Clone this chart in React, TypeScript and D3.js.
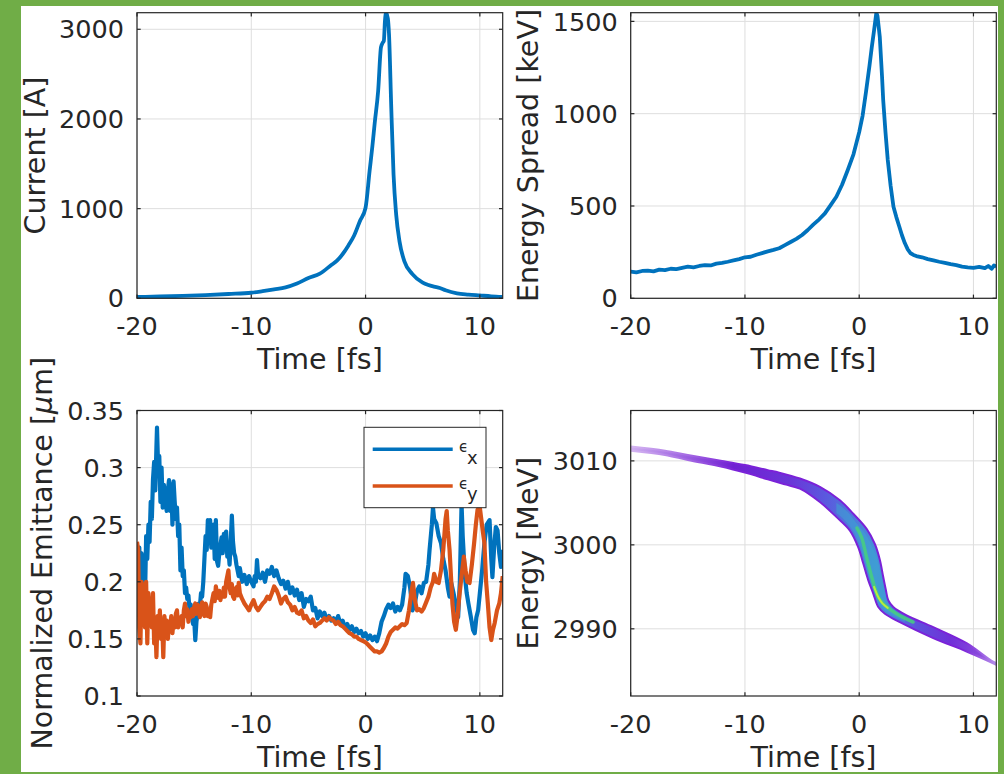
import React from 'react';
import * as d3 from 'd3';

const W = 1004;
const H = 774;
const FONT = '"DejaVu Sans", Verdana, sans-serif';
const INK = '#262626';
const GRID = '#dedede';
const BLUE = '#0072BD';
const ORANGE = '#D95319';
const FRAME_GREEN = '#70AD47';

// ---------- tick labels ----------
const timeTicks = [-20, -10, 0, 10];
const currentTicks = [0, 1000, 2000, 3000];
const spreadTicks = [0, 500, 1000, 1500];
const emitTicks = [0.1, 0.15, 0.2, 0.25, 0.3, 0.35];
const energyTicks = [2990, 3000, 3010];

// ---------- current [A] ----------
const currentT = [-20, -18, -16, -14, -12, -10, -9, -8, -7, -6, -5, -4, -3, -2.5, -2, -1.5, -1, -0.5, 0, 0.35, 0.6, 0.8, 1.1, 1.35, 1.5, 1.6, 1.7, 1.8, 1.95, 2.05, 2.25, 2.45, 2.68, 2.97, 3.4, 4.1, 5, 5.5, 6, 6.5, 7, 8, 9, 10, 11, 12];
const currentA = [15, 20, 27, 36, 48, 62, 80, 100, 122, 165, 226, 275, 371, 420, 494, 590, 700, 860, 1010, 1416, 1700, 1954, 2310, 2800, 2850, 2870, 3100, 3185, 3120, 2950, 2121, 1378, 932, 635, 412, 270, 175, 148, 130, 115, 90, 56, 42, 32, 22, 16];

// ---------- energy spread [keV] ----------
const spreadT = [-20, -19.5, -19, -18.5, -18, -17.5, -17, -16.5, -16, -15.5, -15, -14.5, -14, -13.5, -13, -12.5, -12, -11.5, -11, -10.5, -10, -9.5, -9, -8.5, -8, -7.5, -7, -6.5, -6, -5.5, -5, -4.5, -4, -3.5, -3, -2.5, -2, -1.5, -1, -0.5, 0, 0.3, 0.6, 0.9, 1.1, 1.3, 1.5, 1.6, 1.8, 2.0, 2.1, 2.3, 2.5, 2.75, 3.0, 3.25, 3.5, 3.75, 4.0, 4.25, 4.5, 4.75, 5, 5.5, 6, 6.5, 7, 7.5, 8, 8.5, 9, 9.5, 10, 10.5, 11, 11.3, 11.6, 11.8, 12];
const spreadKeV = [145, 140, 148, 150, 146, 155, 153, 160, 158, 165, 171, 168, 175, 180, 178, 188, 192, 198, 205, 212, 222, 225, 236, 245, 254, 262, 271, 288, 305, 322, 343, 370, 400, 428, 460, 505, 550, 615, 695, 780, 900, 990, 1120, 1260, 1360, 1450, 1547, 1530, 1417, 1200, 1074, 900, 749, 610, 496, 440, 390, 340, 298, 265, 244, 235, 229, 222, 212, 205, 198, 192, 185, 180, 172, 168, 165, 170, 163, 175, 160, 178, 172];

// ---------- normalized emittance [um] ----------
const emitXT = [-20.0, -19.9, -19.8, -19.7, -19.6, -19.5, -19.4, -19.3, -19.2, -19.1, -19.0, -18.9, -18.8, -18.7, -18.6, -18.5, -18.4, -18.3, -18.25, -18.15, -18.05, -17.95, -17.85, -17.75, -17.65, -17.5, -17.4, -17.3, -17.2, -17.1, -17.0, -16.9, -16.8, -16.7, -16.6, -16.5, -16.4, -16.3, -16.2, -16.1, -16.0, -15.9, -15.8, -15.7, -15.6, -15.5, -15.4, -15.3, -15.2, -15.1, -15.0, -14.9, -14.8, -14.7, -14.6, -14.5, -14.4, -14.3, -14.2, -14.1, -14.0, -13.9, -13.8, -13.7, -13.6, -13.5, -13.4, -13.3, -13.2, -13.1, -13.0, -12.9, -12.8, -12.7, -12.6, -12.5, -12.4, -12.3, -12.2, -12.1, -12.0, -11.9, -11.8, -11.7, -11.6, -11.5, -11.4, -11.3, -11.2, -11.1, -11.0, -10.8, -10.6, -10.4, -10.2, -10.0, -9.8, -9.7, -9.6, -9.5, -9.4, -9.2, -9.0, -8.8, -8.6, -8.4, -8.2, -8.0, -7.8, -7.6, -7.4, -7.2, -7.0, -6.8, -6.6, -6.4, -6.2, -6.0, -5.8, -5.6, -5.4, -5.2, -5.0, -4.8, -4.6, -4.4, -4.2, -4.0, -3.8, -3.6, -3.4, -3.2, -3.0, -2.8, -2.6, -2.4, -2.2, -2.0, -1.8, -1.6, -1.4, -1.2, -1.0, -0.8, -0.6, -0.4, -0.2, 0.0, 0.2, 0.4, 0.6, 0.8, 1.0, 1.2, 1.4, 1.6, 1.8, 2.0, 2.2, 2.4, 2.6, 2.8, 3.0, 3.2, 3.4, 3.5, 3.7, 3.9, 4.1, 4.3, 4.5, 4.7, 4.9, 5.1, 5.3, 5.5, 5.6, 5.8, 5.9, 6.0, 6.2, 6.4, 6.6, 6.8, 7.0, 7.2, 7.35, 7.5, 7.7, 7.9, 8.1, 8.25, 8.4, 8.5, 8.7, 8.85, 9.0, 9.2, 9.4, 9.55, 9.7, 9.85, 10.0, 10.2, 10.4, 10.6, 10.85, 11.0, 11.1, 11.25, 11.4, 11.55, 11.7, 11.85, 12.0];
const emitX = [0.175, 0.215, 0.23, 0.19, 0.225, 0.2, 0.21, 0.185, 0.24, 0.22, 0.25, 0.235, 0.27, 0.255, 0.29, 0.305, 0.28, 0.318, 0.335, 0.3, 0.31, 0.27, 0.3, 0.265, 0.285, 0.27, 0.262, 0.28, 0.289, 0.262, 0.285, 0.25, 0.288, 0.27, 0.255, 0.265, 0.24, 0.25, 0.21, 0.23, 0.205, 0.21, 0.19, 0.195, 0.185, 0.188, 0.175, 0.18, 0.17, 0.163, 0.168, 0.149, 0.165, 0.172, 0.181, 0.178, 0.19, 0.187, 0.2, 0.22, 0.24, 0.228, 0.254, 0.25, 0.254, 0.23, 0.245, 0.25, 0.22, 0.254, 0.218, 0.214, 0.225, 0.232, 0.239, 0.225, 0.242, 0.236, 0.244, 0.222, 0.228, 0.215, 0.235, 0.258, 0.235, 0.225, 0.222, 0.215, 0.21, 0.205, 0.212, 0.2, 0.206, 0.198, 0.205, 0.2, 0.196, 0.205, 0.2, 0.219, 0.205, 0.203, 0.208, 0.2, 0.21, 0.207, 0.213, 0.205, 0.21, 0.203, 0.198, 0.201, 0.194, 0.2, 0.19, 0.195, 0.188, 0.193, 0.184, 0.19, 0.178, 0.185, 0.183, 0.187, 0.175, 0.177, 0.168, 0.174, 0.17, 0.173, 0.167, 0.17, 0.166, 0.168, 0.165, 0.17, 0.163, 0.166, 0.16, 0.163, 0.158, 0.161, 0.156, 0.159, 0.155, 0.157, 0.152, 0.155, 0.15, 0.153, 0.149, 0.152, 0.148, 0.155, 0.165, 0.17, 0.176, 0.18, 0.177, 0.181, 0.174, 0.178, 0.175, 0.18, 0.195, 0.207, 0.205, 0.195, 0.175, 0.18, 0.192, 0.196, 0.19, 0.199, 0.2, 0.215, 0.228, 0.25, 0.265, 0.255, 0.251, 0.24, 0.234, 0.22, 0.21, 0.195, 0.187, 0.199, 0.19, 0.18, 0.169, 0.2, 0.268, 0.24, 0.204, 0.19, 0.181, 0.17, 0.158, 0.155, 0.169, 0.175, 0.19, 0.21, 0.234, 0.25, 0.254, 0.22, 0.204, 0.23, 0.248, 0.245, 0.225, 0.213, 0.228];

const emitYT = [-20.0, -19.9, -19.8, -19.7, -19.6, -19.5, -19.4, -19.3, -19.2, -19.1, -19.0, -18.9, -18.8, -18.7, -18.6, -18.5, -18.4, -18.3, -18.2, -18.1, -18.0, -17.9, -17.8, -17.7, -17.6, -17.5, -17.4, -17.3, -17.2, -17.1, -17.0, -16.9, -16.8, -16.7, -16.6, -16.5, -16.4, -16.3, -16.2, -16.1, -16.0, -15.9, -15.8, -15.7, -15.6, -15.5, -15.4, -15.3, -15.2, -15.1, -15.0, -14.9, -14.8, -14.7, -14.6, -14.5, -14.4, -14.3, -14.2, -14.1, -14.0, -13.9, -13.8, -13.7, -13.6, -13.5, -13.4, -13.3, -13.2, -13.1, -13.0, -12.9, -12.8, -12.7, -12.6, -12.5, -12.4, -12.3, -12.2, -12.1, -12.0, -11.9, -11.8, -11.7, -11.6, -11.5, -11.4, -11.3, -11.2, -11.1, -11.0, -10.8, -10.6, -10.4, -10.2, -10.0, -9.8, -9.6, -9.4, -9.2, -9.0, -8.8, -8.6, -8.4, -8.2, -8.0, -7.8, -7.6, -7.4, -7.2, -7.0, -6.8, -6.6, -6.4, -6.2, -6.0, -5.8, -5.6, -5.4, -5.2, -5.0, -4.8, -4.6, -4.4, -4.2, -4.0, -3.8, -3.6, -3.4, -3.2, -3.0, -2.8, -2.6, -2.4, -2.2, -2.0, -1.8, -1.6, -1.4, -1.2, -1.0, -0.8, -0.6, -0.4, -0.2, 0.0, 0.2, 0.4, 0.6, 0.8, 1.0, 1.2, 1.4, 1.6, 1.8, 2.0, 2.2, 2.4, 2.6, 2.8, 3.0, 3.2, 3.4, 3.6, 3.8, 4.0, 4.15, 4.3, 4.5, 4.7, 4.9, 5.1, 5.3, 5.5, 5.7, 5.9, 6.0, 6.2, 6.4, 6.6, 6.8, 7.0, 7.1, 7.2, 7.35, 7.5, 7.6, 7.75, 7.9, 8.05, 8.2, 8.4, 8.6, 8.75, 8.9, 9.1, 9.3, 9.5, 9.65, 9.8, 10.0, 10.1, 10.25, 10.4, 10.55, 10.7, 10.85, 11.0, 11.15, 11.3, 11.5, 11.7, 11.85, 12.0];
const emitY = [0.235, 0.228, 0.16, 0.146, 0.2, 0.195, 0.187, 0.16, 0.2, 0.146, 0.19, 0.175, 0.181, 0.16, 0.19, 0.146, 0.165, 0.134, 0.17, 0.155, 0.175, 0.15, 0.165, 0.134, 0.17, 0.158, 0.166, 0.15, 0.163, 0.161, 0.17, 0.155, 0.166, 0.16, 0.172, 0.175, 0.16, 0.168, 0.164, 0.17, 0.16, 0.175, 0.181, 0.17, 0.176, 0.165, 0.172, 0.169, 0.176, 0.17, 0.178, 0.181, 0.172, 0.18, 0.175, 0.169, 0.175, 0.182, 0.173, 0.17, 0.181, 0.178, 0.17, 0.175, 0.169, 0.18, 0.185, 0.19, 0.183, 0.196, 0.19, 0.186, 0.192, 0.184, 0.19, 0.187, 0.195, 0.187, 0.2, 0.205, 0.21, 0.195, 0.19, 0.198, 0.187, 0.185, 0.192, 0.195, 0.188, 0.199, 0.19, 0.185, 0.181, 0.178, 0.175, 0.18, 0.184, 0.178, 0.175, 0.178, 0.181, 0.183, 0.187, 0.185, 0.19, 0.196, 0.193, 0.188, 0.181, 0.185, 0.187, 0.182, 0.18, 0.175, 0.178, 0.173, 0.172, 0.175, 0.168, 0.17, 0.166, 0.164, 0.167, 0.161, 0.163, 0.164, 0.166, 0.168, 0.166, 0.169, 0.167, 0.166, 0.163, 0.165, 0.162, 0.161, 0.159, 0.157, 0.155, 0.154, 0.152, 0.152, 0.15, 0.149, 0.148, 0.147, 0.145, 0.143, 0.141, 0.139, 0.139, 0.138, 0.139, 0.142, 0.146, 0.152, 0.156, 0.158, 0.16, 0.159, 0.161, 0.163, 0.162, 0.164, 0.175, 0.19, 0.199, 0.185, 0.175, 0.176, 0.174, 0.177, 0.182, 0.187, 0.195, 0.2, 0.207, 0.2, 0.199, 0.21, 0.228, 0.255, 0.262, 0.245, 0.228, 0.2, 0.181, 0.165, 0.158, 0.17, 0.187, 0.205, 0.222, 0.21, 0.2, 0.199, 0.215, 0.234, 0.25, 0.263, 0.265, 0.257, 0.245, 0.234, 0.2, 0.181, 0.16, 0.149, 0.158, 0.164, 0.175, 0.181, 0.19, 0.205];

// ---------- longitudinal phase space (energy band outline) [MeV] ----------
const bandUpperT = [-20, -17, -15, -12, -10, -8, -7, -5.19, -3.44, -1.69, -0.52, 0.65, 1.37, 1.81, 2.1, 2.34, 2.54, 2.98, 4.15, 6.48, 9.4, 11.72, 12.3];
const bandUpperE = [3011.7, 3011.2, 3010.7, 3010.0, 3009.5, 3008.9, 3008.6, 3007.9, 3006.9, 3005.3, 3003.7, 3001.9, 3000.1, 2998.2, 2996.2, 2994.6, 2993.4, 2992.6, 2991.6, 2990.2, 2988.3, 2986.1, 2985.8];
const bandLowerT = [-20, -17, -15, -12, -10, -8, -6.5, -5.19, -3.44, -1.98, -0.81, -0.08, 0.35, 0.79, 1.23, 1.67, 2.25, 3.56, 6.48, 9.4, 11.72, 12.3];
const bandLowerE = [3011.2, 3010.7, 3010.1, 3009.3, 3008.6, 3007.8, 3007.2, 3006.7, 3005.1, 3003.3, 3001.7, 2999.7, 2997.8, 2995.8, 2994.2, 2992.6, 2991.8, 2990.8, 2988.9, 2987.3, 2985.9, 2985.5];
const coreT = [-2, -1, 0, 0.5, 1, 1.5, 2, 2.5, 3, 4];
const coreUpper = [3005.0, 3003.9, 3002.2, 3001.4, 3000.2, 2998.6, 2996.0, 2993.2, 2992.3, 2991.4];
const coreLower = [3003.8, 3002.5, 3000.2, 2998.0, 2995.8, 2993.8, 2992.6, 2991.9, 2991.5, 2990.8];
const ridgeT = [-0.2, 0.21, 0.65, 1.09, 1.67, 2.25, 3.27, 4.72];
const ridgeE = [3002.0, 3000.9, 2998.5, 2996.2, 2993.8, 2992.8, 2991.8, 2990.8];
const peakT = [1.3, 1.7, 2.05, 2.5];
const peakE = [2995.0, 2993.7, 2993.0, 2992.5];

type Box = { l: number; r: number; t: number; b: number };
const TL: Box = { l: 137, r: 502.7, t: 12.7, b: 298.3 };
const TR: Box = { l: 630.7, r: 996.3, t: 12.7, b: 298.3 };
const BL: Box = { l: 137, r: 502.7, t: 410.5, b: 696 };
const BR: Box = { l: 630.7, r: 996.3, t: 410.5, b: 696 };

const TICK_FS = 25.5;
const LABEL_FS = 28.5;
const TICK_LEN = 3.7;

type Scale = d3.ScaleLinear<number, number>;

function Axes(props: {
  box: Box;
  id: string;
  xDomain: [number, number];
  yDomain: [number, number];
  xTicks: number[];
  yTicks: number[];
  yFmt: (v: number) => string;
  xLabel: string;
  yLabel: React.ReactNode;
  yLabelGap: number;
  render: (x: Scale, y: Scale) => React.ReactNode;
  overlay?: React.ReactNode;
}) {
  const { box, id } = props;
  const x = d3.scaleLinear().domain(props.xDomain).range([box.l, box.r]);
  const y = d3.scaleLinear().domain(props.yDomain).range([box.b, box.t]);
  return (
    <g>
      <defs>
        <clipPath id={id}>
          <rect x={box.l} y={box.t} width={box.r - box.l} height={box.b - box.t} />
        </clipPath>
      </defs>
      <rect x={box.l} y={box.t} width={box.r - box.l} height={box.b - box.t} fill="#ffffff" />
      {props.xTicks.map((v) => (
        <line key={'gx' + v} x1={x(v)} x2={x(v)} y1={box.t} y2={box.b} stroke={GRID} strokeWidth={1} />
      ))}
      {props.yTicks.map((v) => (
        <line key={'gy' + v} x1={box.l} x2={box.r} y1={y(v)} y2={y(v)} stroke={GRID} strokeWidth={1} />
      ))}
      <g clipPath={`url(#${id})`}>{props.render(x, y)}</g>
      <rect x={box.l} y={box.t} width={box.r - box.l} height={box.b - box.t} fill="none" stroke={INK} strokeWidth={1.2} />
      {props.xTicks.map((v) => (
        <g key={'tx' + v}>
          <line x1={x(v)} x2={x(v)} y1={box.b} y2={box.b - TICK_LEN} stroke={INK} strokeWidth={1.2} />
          <line x1={x(v)} x2={x(v)} y1={box.t} y2={box.t + TICK_LEN} stroke={INK} strokeWidth={1.2} />
          <text x={x(v)} y={box.b + 36.7} textAnchor="middle" fontSize={TICK_FS} fill={INK} fontFamily={FONT}>
            {String(v)}
          </text>
        </g>
      ))}
      {props.yTicks.map((v) => (
        <g key={'ty' + v}>
          <line x1={box.l} x2={box.l + TICK_LEN} y1={y(v)} y2={y(v)} stroke={INK} strokeWidth={1.2} />
          <line x1={box.r} x2={box.r - TICK_LEN} y1={y(v)} y2={y(v)} stroke={INK} strokeWidth={1.2} />
          <text x={box.l - 13} y={y(v)} dy="0.36em" textAnchor="end" fontSize={TICK_FS} fill={INK} fontFamily={FONT}>
            {props.yFmt(v)}
          </text>
        </g>
      ))}
      <text x={(box.l + box.r) / 2} y={box.b + 70.7} textAnchor="middle" fontSize={LABEL_FS} fill={INK} fontFamily={FONT}>
        {props.xLabel}
      </text>
      <text
        transform={`translate(${box.l - props.yLabelGap},${(box.t + box.b) / 2}) rotate(-90)`}
        textAnchor="middle"
        fontSize={LABEL_FS}
        fill={INK}
        fontFamily={FONT}
      >
        {props.yLabel}
      </text>
      {props.overlay}
    </g>
  );
}

function linePath(x: Scale, y: Scale, ts: number[], vs: number[], curve: d3.CurveFactory = d3.curveLinear) {
  const pts: [number, number][] = ts.map((t, i) => [t, vs[i]]);
  return d3
    .line<[number, number]>()
    .x((d) => x(d[0]))
    .y((d) => y(d[1]))
    .curve(curve)(pts) as string;
}

function outlinePath(x: Scale, y: Scale, ut: number[], ue: number[], lt: number[], le: number[]) {
  const gen = d3
    .line<[number, number]>()
    .x((d) => x(d[0]))
    .y((d) => y(d[1]))
    .curve(d3.curveCatmullRom.alpha(0.5));
  const up: [number, number][] = ut.map((t, i) => [t, ue[i]]);
  const lo: [number, number][] = lt.map((t, i) => [t, le[i]]).reverse() as [number, number][];
  const a = gen(up) as string;
  const b = (gen(lo) as string).replace(/^M/, 'L');
  return a + b + 'Z';
}

function bandPath(x: Scale, y: Scale, ts: number[], up: number[], lo: number[]) {
  const pts = ts.map((t, i) => ({ t, u: up[i], l: lo[i] }));
  return d3
    .area<{ t: number; u: number; l: number }>()
    .x((d) => x(d.t))
    .y0((d) => y(d.l))
    .y1((d) => y(d.u))
    .curve(d3.curveMonotoneX)(pts) as string;
}

export default function App() {
  const fmtInt = (v: number) => String(v);
  const fmtEmit = (v: number) => String(+v.toFixed(2));

  const xs = d3.scaleLinear().domain([-20, 12]).range([BR.l, BR.r]);
  const stop = (t: number) => ((xs(t) - BR.l) / (BR.r - BR.l)) * 100 + '%';

  return (
    <div style={{ position: 'absolute', left: 0, top: 0, width: W, height: H }}>
      <svg width={W} height={H} viewBox={`0 0 ${W} ${H}`} style={{ display: 'block' }}>
        <defs>
          <linearGradient id="bandFill" gradientUnits="userSpaceOnUse" x1={BR.l} x2={BR.r} y1={0} y2={0}>
            <stop offset={stop(-20)} stopColor="#cfaef0" />
            <stop offset={stop(-15)} stopColor="#9a5ee0" />
            <stop offset={stop(-11)} stopColor="#7020d2" />
            <stop offset={stop(-6)} stopColor="#6a36d8" />
            <stop offset={stop(-3)} stopColor="#5b58de" />
            <stop offset={stop(-0.5)} stopColor="#4f78dc" />
            <stop offset={stop(1.5)} stopColor="#4590d8" />
            <stop offset={stop(3)} stopColor="#4b7cdc" />
            <stop offset={stop(5)} stopColor="#5e50dc" />
            <stop offset={stop(8)} stopColor="#7030d8" />
            <stop offset={stop(10.5)} stopColor="#8848dc" />
            <stop offset={stop(12)} stopColor="#b790ea" />
          </linearGradient>
          <linearGradient id="bandEdge" gradientUnits="userSpaceOnUse" x1={BR.l} x2={BR.r} y1={0} y2={0}>
            <stop offset={stop(-20)} stopColor="#d6b8f2" />
            <stop offset={stop(-15)} stopColor="#a56ae3" />
            <stop offset={stop(-11)} stopColor="#7a22d8" />
            <stop offset={stop(9)} stopColor="#7a22d8" />
            <stop offset={stop(12)} stopColor="#b690ea" />
          </linearGradient>
        </defs>
        <rect x={0} y={0} width={W} height={H} fill={FRAME_GREEN} />
        <rect x={21} y={6} width={977} height={766} fill="#ffffff" />

        <Axes
          box={TL}
          id="clipTL"
          xDomain={[-20, 12]}
          yDomain={[0, 3185]}
          xTicks={timeTicks}
          yTicks={currentTicks}
          yFmt={fmtInt}
          xLabel="Time [fs]"
          yLabel="Current [A]"
          yLabelGap={92.5}
          render={(x, y) => (
            <path
              d={linePath(x, y, currentT, currentA, d3.curveMonotoneX)}
              fill="none"
              stroke={BLUE}
              strokeWidth={3.8}
              strokeLinejoin="round"
            />
          )}
        />

        <Axes
          box={TR}
          id="clipTR"
          xDomain={[-20, 12]}
          yDomain={[0, 1547]}
          xTicks={timeTicks}
          yTicks={spreadTicks}
          yFmt={fmtInt}
          xLabel="Time [fs]"
          yLabel="Energy Spread [keV]"
          yLabelGap={92.5}
          render={(x, y) => (
            <path d={linePath(x, y, spreadT, spreadKeV)} fill="none" stroke={BLUE} strokeWidth={3.8} strokeLinejoin="round" />
          )}
        />

        <Axes
          box={BL}
          id="clipBL"
          xDomain={[-20, 12]}
          yDomain={[0.1, 0.35]}
          xTicks={timeTicks}
          yTicks={emitTicks}
          yFmt={fmtEmit}
          xLabel="Time [fs]"
          yLabel={
            <>
              {'Normalized Emittance ['}
              <tspan fontStyle="italic">μ</tspan>
              {'m]'}
            </>
          }
          yLabelGap={85.5}
          render={(x, y) => (
            <g>
              <path d={linePath(x, y, emitXT, emitX)} fill="none" stroke={BLUE} strokeWidth={4.2} strokeLinejoin="round" />
              <path d={linePath(x, y, emitYT, emitY)} fill="none" stroke={ORANGE} strokeWidth={4.2} strokeLinejoin="round" />
            </g>
          )}
          overlay={
            <g>
              <rect x={364} y={427.3} width={122} height={80.4} fill="#ffffff" stroke={INK} strokeWidth={1} />
              <line x1={372.7} x2={452.7} y1={449.3} y2={449.3} stroke={BLUE} strokeWidth={3.6} />
              <line x1={372.7} x2={452.7} y1={486} y2={486} stroke={ORANGE} strokeWidth={3.6} />
              <text x={459} y={452} fontSize={15} fill={INK} fontFamily={FONT}>
                ϵ
              </text>
              <text x={467} y={463.5} fontSize={18} fill={INK} fontFamily={FONT}>
                x
              </text>
              <text x={459} y={488.5} fontSize={15} fill={INK} fontFamily={FONT}>
                ϵ
              </text>
              <text x={467} y={499.5} fontSize={18} fill={INK} fontFamily={FONT}>
                y
              </text>
            </g>
          }
        />

        <Axes
          box={BR}
          id="clipBR"
          xDomain={[-20, 12]}
          yDomain={[2982, 3016]}
          xTicks={timeTicks}
          yTicks={energyTicks}
          yFmt={fmtInt}
          xLabel="Time [fs]"
          yLabel="Energy [MeV]"
          yLabelGap={92.5}
          render={(x, y) => (
            <g>
              <path
                d={outlinePath(x, y, bandUpperT, bandUpperE, bandLowerT, bandLowerE)}
                fill="url(#bandFill)"
                stroke="url(#bandEdge)"
                strokeWidth={2}
                strokeLinejoin="round"
              />
              <path d={bandPath(x, y, coreT, coreUpper, coreLower)} fill="#3aa9cf" opacity={0.5} />
              <path
                d={linePath(x, y, ridgeT, ridgeE, d3.curveCatmullRom)}
                fill="none"
                stroke="#46d07c"
                strokeWidth={3.4}
                strokeLinecap="round"
                opacity={0.85}
              />
              <path
                d={linePath(x, y, peakT, peakE, d3.curveCatmullRom)}
                fill="none"
                stroke="#b8ec3c"
                strokeWidth={2}
                strokeLinecap="round"
              />
            </g>
          )}
        />
      </svg>
    </div>
  );
}
